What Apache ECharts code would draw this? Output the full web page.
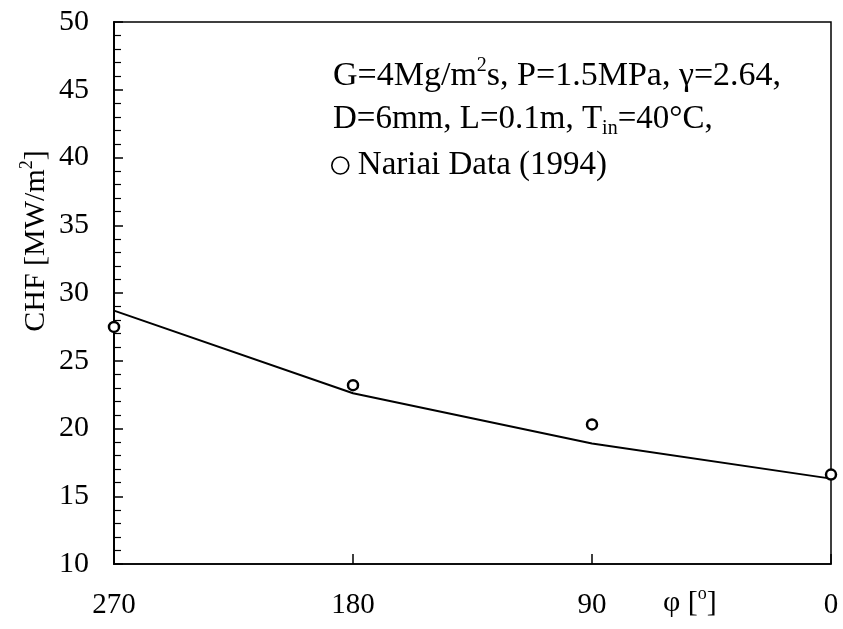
<!DOCTYPE html>
<html>
<head>
<meta charset="utf-8">
<title>CHF vs angle</title>
<script src="https://cdn.jsdelivr.net/npm/echarts@6/dist/echarts.min.js"></script>
<style>
  html, body { margin: 0; padding: 0; background: #fff; }
  #chart { width: 843px; height: 629px; }
</style>
</head>
<body>
<div id="chart"></div>
<script>
  // circumferential angle [deg] and CHF [MW/m2]
  const angles = [270, 180, 90, 0];
  const chfModel = [28.7, 22.6, 18.9, 16.3];
  const chfNariai = [27.5, 23.2, 20.3, 16.6];
  const xTicks = [270, 180, 90, 0];
  const yRange = [10, 50];

  const serif = "'Liberation Serif', 'DejaVu Serif', serif";
  const ink = "#000";

  const chart = echarts.init(document.getElementById("chart"), null, { renderer: "canvas" });

  function richSet(size) {
    return {
      b: { fontSize: size, fontFamily: serif, color: ink, lineHeight: size + 6 },
      sup: { fontSize: Math.round(size * 0.6), fontFamily: serif, color: ink, lineHeight: size + 6, verticalAlign: "top" },
      sub: { fontSize: Math.round(size * 0.6), fontFamily: serif, color: ink, lineHeight: size + 6, verticalAlign: "bottom" }
    };
  }

  function note(x, y, text, size, rotation) {
    return {
      type: "text",
      x: x,
      y: y,
      rotation: rotation || 0,
      silent: true,
      style: {
        text: text,
        rich: richSet(size),
        align: rotation ? "center" : "left",
        verticalAlign: "middle"
      }
    };
  }

  const option = {
    animation: false,
    backgroundColor: "#fff",
    grid: {
      left: 114,
      right: 12,
      top: 22,
      bottom: 65,
      show: true,
      borderColor: ink,
      borderWidth: 1.5
    },
    xAxis: {
      type: "value",
      min: 0,
      max: 270,
      interval: 90,
      inverse: true,
      axisLine: { show: true, onZero: false, lineStyle: { color: ink, width: 1.5 } },
      axisTick: { show: true, inside: true, length: 10, lineStyle: { color: ink, width: 1.5 } },
      axisLabel: {
        customValues: xTicks,
        margin: 27,
        color: ink,
        fontSize: 29,
        fontFamily: serif
      },
      splitLine: { show: false }
    },
    yAxis: {
      type: "value",
      position: "left",
      min: yRange[0],
      max: yRange[1],
      interval: 5,
      axisLine: { show: true, onZero: false, lineStyle: { color: ink, width: 2 } },
      axisTick: { show: true, inside: true, length: 9, lineStyle: { color: ink, width: 1.5 } },
      minorTick: { show: true, splitNumber: 5, length: 7, lineStyle: { color: ink, width: 1.2 } },
      axisLabel: {
        margin: 25,
        color: ink,
        fontSize: 30,
        fontFamily: serif
      },
      splitLine: { show: false }
    },
    legend: {
      left: 326,
      top: 144,
      orient: "vertical",
      itemWidth: 17,
      itemHeight: 17,
      itemGap: 0,
      selectedMode: false,
      textStyle: { fontSize: 33, fontFamily: serif, color: ink, padding: [0, 0, 0, 4] },
      data: [{
        name: "Nariai Data (1994)",
        icon: "circle",
        itemStyle: { color: "#fff", borderColor: ink, borderWidth: 1.6 }
      }]
    },
    series: [
      {
        name: "model",
        type: "line",
        data: angles.map((a, i) => [a, chfModel[i]]),
        showSymbol: false,
        symbol: "none",
        lineStyle: { color: ink, width: 2 },
        z: 2
      },
      {
        name: "Nariai Data (1994)",
        type: "scatter",
        data: angles.map((a, i) => [a, chfNariai[i]]),
        symbol: "circle",
        symbolSize: 10,
        clip: false,
        itemStyle: { color: "#fff", borderColor: ink, borderWidth: 2.5, opacity: 1 },
        z: 3
      }
    ],
    graphic: [
      note(333, 76, "{b|G=4Mg/m}{sup|2}{b|s, P=1.5MPa, γ=2.64,}", 34),
      note(333, 119, "{b|D=6mm, L=0.1m, T}{sub|in}{b|=40°C,}", 33),
      note(663, 603, "{b|φ [}{sup|o}{b|]}", 30),
      note(36, 241, "{b|CHF [MW/m}{sup|2}{b|]}", 30, Math.PI / 2)
    ]
  };

  chart.setOption(option);
  window.addEventListener("resize", () => chart.resize());
</script>
</body>
</html>
